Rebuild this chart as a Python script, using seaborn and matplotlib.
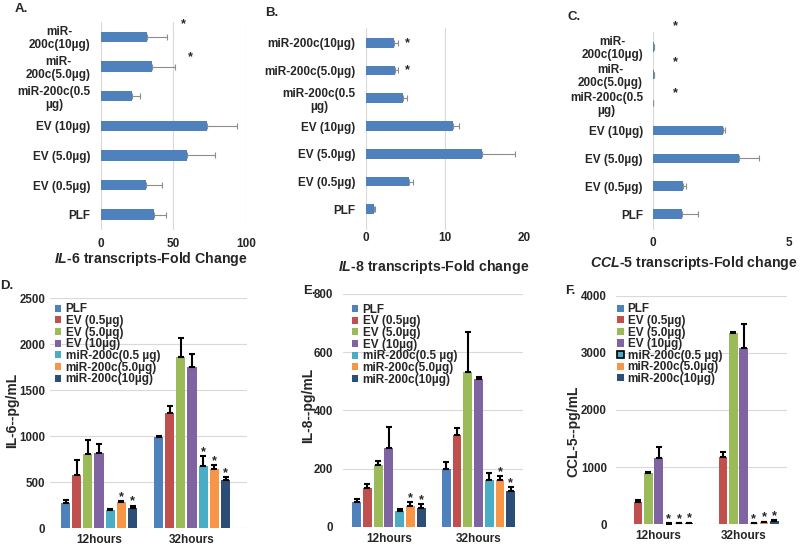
import numpy as np
import pandas as pd
import matplotlib
matplotlib.use("Agg")
import matplotlib.pyplot as plt
import seaborn as sns
from matplotlib.patches import Patch

# --- top row: transcript fold change (listed top to bottom) ---
LABELS_AC = ["miR-\n200c(10µg)", "miR-\n200c(5.0µg)", "miR-200c(0.5\nµg)",
             "EV (10µg)", "EV (5.0µg)", "EV (0.5µg)", "PLF"]
LABELS_B = ["miR-200c(10µg)", "miR-200c(5.0µg)", "miR-200c(0.5\nµg)",
            "EV (10µg)", "EV (5.0µg)", "EV (0.5µg)", "PLF"]

IL6_FOLD = [31.6, 35.3, 21.8, 73.4, 59.6, 31.0, 36.9]
IL6_FOLD_ERR = [14.3, 15.7, 5.5, 20.6, 19.4, 11.4, 7.8]
IL8_FOLD = [3.57, 3.74, 4.66, 11.0, 14.7, 5.5, 1.05]
IL8_FOLD_ERR = [0.46, 0.29, 0.51, 0.8, 4.1, 0.47, 0.15]
CCL5_FOLD = [0.04, 0.03, 0.01, 2.56, 3.16, 1.10, 1.07]
CCL5_FOLD_ERR = [0.0, 0.0, 0.0, 0.09, 0.74, 0.13, 0.6]

# star positions (category index, x in data units, y shift)
IL6_FOLD_STARS = [(0, 57, -0.42), (1, 62, -0.32)]
IL8_FOLD_STARS = [(0, 5.3, 0.0), (1, 5.3, 0.0)]
CCL5_FOLD_STARS = [(0, 0.83, -0.75), (1, 0.83, -0.45), (2, 0.83, -0.32)]

# --- bottom row: secreted protein ---
TIMES = ["12hours", "32hours"]
GROUPS = ["PLF", "EV (0.5µg)", "EV (5.0µg)", "EV (10µg)",
          "miR-200c(0.5 µg)", "miR-200c(5.0µg)", "miR-200c(10µg)"]
COLORS = ["#4F81BD", "#C0504D", "#9BBB59", "#8064A2", "#4BACC6", "#F79646", "#2C4D75"]

IL6_12 = [280, 580, 810, 822, 199, 283, 217]
IL6_12_ERR = [30, 163, 155, 95, 8, 14, 30]
IL6_32 = [995, 1250, 1860, 1750, 678, 641, 520]
IL6_32_ERR = [12, 80, 212, 150, 108, 45, 42]
IL6_STARS = [(0, 5), (0, 6), (1, 4), (1, 5), (1, 6)]

IL8_12 = [86, 132, 212, 269, 55, 71, 63]
IL8_12_ERR = [8, 15, 15, 75, 6, 14, 14]
IL8_32 = [197, 315, 533, 507, 160, 160, 124]
IL8_32_ERR = [26, 25, 137, 9, 26, 14, 11]
IL8_STARS = [(0, 5), (0, 6), (1, 5), (1, 6)]

CCL5_12 = [3, 396, 905, 1166, 12, 22, 22]
CCL5_12_ERR = [0, 25, 17, 190, 5, 6, 8]
CCL5_32 = [3, 1175, 3341, 3079, 22, 40, 55]
CCL5_32_ERR = [0, 85, 18, 425, 6, 8, 15]
CCL5_STARS = [(0, 4), (0, 5), (0, 6), (1, 4), (1, 5), (1, 6)]

TXT = "#262626"
GRID = "#D9D9D9"

sns.set_style("white")
plt.rcParams["font.family"] = ["Liberation Sans", "DejaVu Sans"]
plt.rcParams["font.weight"] = "bold"
plt.rcParams["mathtext.fontset"] = "custom"
plt.rcParams["mathtext.it"] = "Liberation Sans:italic:bold"
plt.rcParams["mathtext.rm"] = "Liberation Sans:bold"

fig = plt.figure(figsize=(8, 5.49), dpi=100)


def fold_panel(rect, labels, vals, errs, stars, xmax, xticks, ylim, xlabel,
               xpad, lab_xy):
    ax = fig.add_axes(rect)
    sns.barplot(x=vals, y=labels, orient="h", color="#4F81BD", saturation=1,
                width=0.35, errorbar=None, linewidth=0, ax=ax)
    ax.errorbar(vals, np.arange(len(vals)), xerr=[np.zeros(len(vals)), errs],
                fmt="none", ecolor="#8C8C8C", elinewidth=0.8, capsize=2.2,
                capthick=0.8)
    for i, sx, dy in stars:
        ax.text(sx, i + dy, "*", ha="center", va="center", fontsize=9, color=TXT)
    ax.set_xlim(0, xmax)
    ax.set_xticks(xticks)
    ax.set_ylim(*ylim)
    ax.grid(axis="x", color=GRID, lw=0.8)
    ax.set_axisbelow(True)
    sns.despine(ax=ax, left=True, bottom=True)
    ax.tick_params(axis="x", length=0, pad=xpad, labelsize=8.5, labelcolor=TXT)
    ax.tick_params(axis="y", length=0, pad=7.3, labelsize=8.5, labelcolor=TXT)
    for t in ax.get_yticklabels():
        t.set_multialignment("center")
        t.set_linespacing(1.1)
    ax.set_ylabel("")
    ax.set_xlabel(xlabel, fontsize=10.2, color=TXT, fontweight="bold")
    ax.xaxis.set_label_coords(*lab_xy)
    ax.xaxis.label.set_va("center")
    return ax


def protein_panel(rect, v12, e12, v32, e32, stars, ymax, ystep, ylabel,
                  xlim, ypad, lab_xy, leg_xy, edge_idx=None):
    ax = fig.add_axes(rect)
    df = pd.DataFrame({"time": np.repeat(TIMES, len(GROUPS)),
                       "group": GROUPS * 2,
                       "value": v12 + v32,
                       "err": e12 + e32})
    sns.barplot(data=df, x="time", y="value", hue="group", hue_order=GROUPS,
                palette=COLORS, saturation=1, width=0.84, gap=0.17,
                errorbar=None, legend=False, linewidth=0, ax=ax)
    for g, cont in zip(GROUPS, ax.containers):
        sub = df[df["group"] == g]
        xs = np.array([b.get_x() + b.get_width() / 2 for b in cont])
        ys = sub["value"].to_numpy()
        es = sub["err"].to_numpy()
        keep = es > 0
        ax.errorbar(xs[keep], ys[keep], yerr=[np.zeros(keep.sum()), es[keep]],
                    fmt="none", ecolor="black", elinewidth=1.5, capsize=1.9,
                    capthick=1.5)
        gi = GROUPS.index(g)
        for ti, x, y, e in zip(range(2), xs, ys, es):
            if (ti, gi) in stars:
                ax.annotate("*", (x, y + e), xytext=(0, -1.5),
                            textcoords="offset points", ha="center",
                            va="bottom", fontsize=9, color=TXT)
    ax.set_ylim(0, ymax)
    ax.set_yticks(np.arange(0, ymax + 1, ystep))
    ax.set_xlim(*xlim)
    ax.grid(axis="y", color=GRID, lw=0.8)
    ax.set_axisbelow(True)
    sns.despine(ax=ax, left=True, bottom=True)
    ax.tick_params(axis="x", length=0, pad=4.3, labelsize=8.5, labelcolor=TXT)
    ax.tick_params(axis="y", length=0, pad=ypad, labelsize=8.3, labelcolor=TXT)
    ax.set_xlabel("")
    ax.set_ylabel(ylabel, fontsize=10, color=TXT, fontweight="bold")
    ax.yaxis.set_label_coords(*lab_xy)
    ax.yaxis.label.set_va("center")
    handles = [Patch(facecolor=c, edgecolor="black" if i == edge_idx else c,
                     lw=1.2 if i == edge_idx else 0)
               for i, c in enumerate(COLORS)]
    ax.legend(handles, GROUPS, loc="upper left", bbox_to_anchor=leg_xy,
              frameon=False, borderpad=0, borderaxespad=0, handlelength=0.55,
              handleheight=0.55, handletextpad=0.35, labelspacing=-0.03,
              prop={"size": 8.5, "weight": "bold"}, labelcolor=TXT)
    return ax


fold_panel([0.1259, 0.5811, 0.1816, 0.3794], LABELS_AC, IL6_FOLD, IL6_FOLD_ERR,
           IL6_FOLD_STARS, 100, [0, 50, 100], (6.517, -0.517),
           r"$IL$-$\mathit{6}$ transcripts-Fold Change", 6.0, (0.346, -0.138))
fold_panel([0.4571, 0.5811, 0.1983, 0.3679], LABELS_B, IL8_FOLD, IL8_FOLD_ERR,
           IL8_FOLD_STARS, 20, [0, 10, 20], (6.745, -0.53),
           r"$IL$-$\mathit{8}$ transcripts-Fold change", 1.7, (0.43, -0.185))
fold_panel([0.8163, 0.5811, 0.17, 0.3612], LABELS_AC, CCL5_FOLD, CCL5_FOLD_ERR,
           CCL5_FOLD_STARS, 5, [0, 5], (6.562, -0.537),
           r"$CCL$-$\mathit{5}$ transcripts-Fold change", 4.8, (0.30, -0.165))

protein_panel([0.0625, 0.0377, 0.2459, 0.4189], IL6_12, IL6_12_ERR, IL6_32,
              IL6_32_ERR, IL6_STARS, 2500, 500, "IL-6--pg/mL", (-0.527, 1.588),
              3.6, (-0.193, 0.514), (0.025, 0.978))
protein_panel([0.4291, 0.0406, 0.225, 0.4239], IL8_12, IL8_12_ERR, IL8_32,
              IL8_32_ERR, IL8_STARS, 800, 200, "IL-8--pg/mL", (-0.51, 1.50),
              7.2, (-0.197, 0.523), (0.048, 0.958))
protein_panel([0.77, 0.045, 0.2138, 0.4164], CCL5_12, CCL5_12_ERR, CCL5_32,
              CCL5_32_ERR, CCL5_STARS, 4000, 1000, "CCL-5--pg/mL", (-0.5, 1.51),
              6.5, (-0.251, 0.408), (0.006, 0.967), edge_idx=4)

for letter, x, y in [("A.", 15, 9), ("B.", 265, 13.5), ("C.", 568, 16.7),
                     ("D.", 0, 286), ("E.", 303, 291), ("F.", 565, 291)]:
    fig.text(x / 800, 1 - y / 549, letter, fontsize=9.5, fontweight="bold",
             color=TXT, va="center", ha="left")

fig.savefig("out.png", dpi=100)
